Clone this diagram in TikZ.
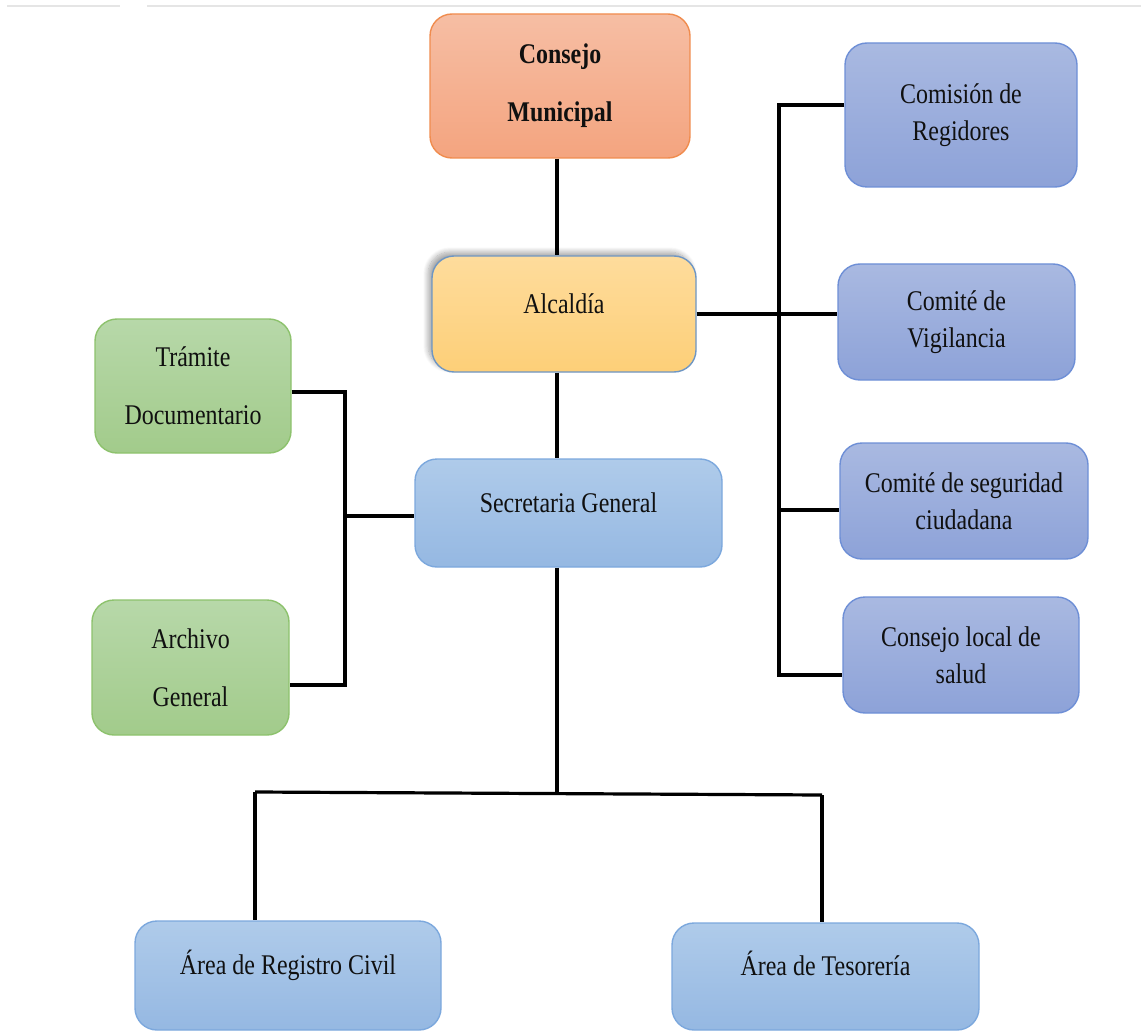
\documentclass[tikz,border=0pt]{standalone}
\usepackage{fontspec}
\setmainfont{Liberation Serif}[FakeStretch=0.84]
\usetikzlibrary{shadows.blur}

\definecolor{orTop}{HTML}{F6BEA4}
\definecolor{orBot}{HTML}{F4A47F}
\definecolor{orLine}{HTML}{F08C4E}
\definecolor{yeTop}{HTML}{FEDC9C}
\definecolor{yeBot}{HTML}{FDCF78}
\definecolor{yeLine}{HTML}{6E96C4}
\definecolor{blTop}{HTML}{AFCBEA}
\definecolor{blBot}{HTML}{95B8E2}
\definecolor{blLine}{HTML}{7CA8DD}
\definecolor{peTop}{HTML}{A9B9E1}
\definecolor{peBot}{HTML}{8DA2D8}
\definecolor{peLine}{HTML}{6E8FD6}
\definecolor{grTop}{HTML}{B7D8A9}
\definecolor{grBot}{HTML}{A2CB8B}
\definecolor{grLine}{HTML}{8DC26D}
\definecolor{ink}{HTML}{101010}

\tikzset{
  box/.style={draw, line width=1.4pt, rounded corners=22pt, text=ink,
    inner sep=0pt, align=center},
  wide/.style={font=\fontsize{28.5}{58}\selectfont},
  tight/.style={font=\fontsize{28.5}{37}\selectfont},
  single/.style={font=\fontsize{28.5}{34}\selectfont, text height=20pt, text depth=22pt},
  orangebox/.style={box, top color=orTop, bottom color=orBot, draw=orLine},
  yellowbox/.style={box, top color=yeTop, bottom color=yeBot, draw=yeLine},
  bluebox/.style={box, top color=blTop, bottom color=blBot, draw=blLine},
  peribox/.style={box, top color=peTop, bottom color=peBot, draw=peLine},
  greenbox/.style={box, top color=grTop, bottom color=grBot, draw=grLine},
  link/.style={draw=black, line width=3.2pt},
  rule/.style={draw=black!10, line width=2pt}
}

\begin{document}
\begin{tikzpicture}[x=1pt, y=-1pt]
\useasboundingbox (0,0) rectangle (1141,1035);

% thin rules along the top edge
\draw[rule] (7,6) -- (120,6);
\draw[rule] (147,6) -- (1141,6);

% central column
\node[orangebox, wide, minimum width=260pt, minimum height=144pt] (cm) at (560,86)
  {\textbf{Consejo}\\\textbf{Municipal}};
\node[yellowbox, single, minimum width=264pt, minimum height=116pt,
  blur shadow={shadow xshift=-4pt, shadow yshift=4pt, shadow blur steps=10,
    shadow blur radius=5pt, shadow opacity=35}]
  (alc) at (564,314) {Alcaldía};
\node[bluebox, single, minimum width=307pt, minimum height=108pt] (sec) at (568.5,513)
  {Secretaria General};

% left branch
\node[greenbox, wide, minimum width=196pt, minimum height=134pt] (tra) at (193,386)
  {Trámite\\Documentario};
\node[greenbox, wide, minimum width=197pt, minimum height=135pt] (arc) at (190.5,667.5)
  {Archivo\\General};

% right branch
\node[peribox, tight, minimum width=232pt, minimum height=144pt] (com) at (961,115)
  {Comisión de\\Regidores};
\node[peribox, tight, minimum width=237pt, minimum height=116pt] (vig) at (956.5,322)
  {Comité de\\Vigilancia};
\node[peribox, tight, minimum width=248pt, minimum height=116pt] (seg) at (964,501)
  {Comité de seguridad\\ciudadana};
\node[peribox, tight, minimum width=236pt, minimum height=116pt] (sal) at (961,655)
  {Consejo local de\\salud};

% bottom row
\node[bluebox, single, minimum width=306pt, minimum height=109pt] (reg) at (288,975.5)
  {Área de Registro Civil};
\node[bluebox, single, minimum width=307pt, minimum height=107pt] (tes) at (825.5,976.5)
  {Área de Tesorería};

% junction points
\coordinate (tx) at (557,0);
\coordinate (rTop) at (779,105);
\coordinate (rSeg) at (779,510);
\coordinate (rBot) at (779,675);
\coordinate (lTop) at (345,392);
\coordinate (lMid) at (345,516);
\coordinate (lBot) at (345,685);
\coordinate (bm) at (557,793);
\coordinate (bL) at (255,792);
\coordinate (bR) at (822,795);

% connectors
\draw[link] (cm.south -| tx) -- (alc.north -| tx);
\draw[link] (alc.south -| tx) -- (sec.north -| tx);

\draw[link] (com.west |- rTop) -- (rTop) -- (rBot) -- (sal.west |- rBot);
\draw[link] (alc.east) -- (alc.east -| vig.west);
\draw[link] (rSeg) -- (seg.west |- rSeg);

\draw[link] (tra.east |- lTop) -- (lTop) -- (lBot) -- (arc.east |- lBot);
\draw[link] (lMid) -- (sec.west |- lMid);

\draw[link] (sec.south -| tx) -- (bm);
\draw[link] (bL) -- (bR);
\draw[link] (bL) -- (reg.north -| bL);
\draw[link] (bR) -- (tes.north -| bR);
\end{tikzpicture}
\end{document}
